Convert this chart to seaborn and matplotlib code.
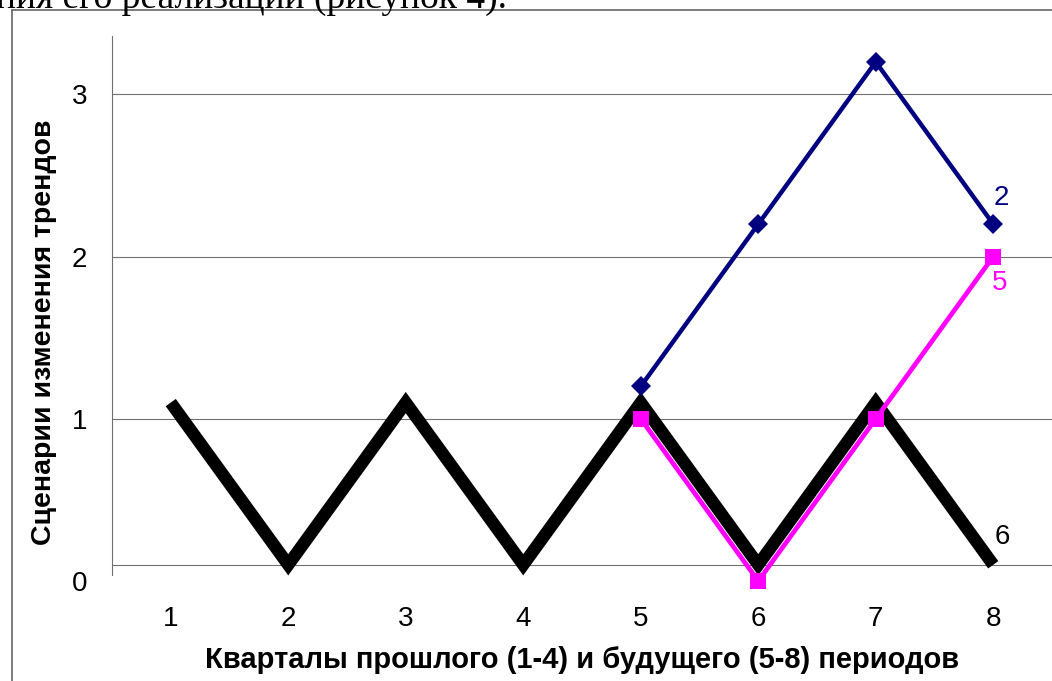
import seaborn as sns
import pandas as pd
import matplotlib.pyplot as plt
from matplotlib.lines import Line2D

quarters = [1, 2, 3, 4, 5, 6, 7, 8]
scenario6 = [1.1, 0.1, 1.1, 0.1, 1.1, 0.1, 1.1, 0.1]
future_quarters = [5, 6, 7, 8]
scenario2 = [1.2, 2.2, 3.2, 2.2]
scenario5 = [1.0, 0.0, 1.0, 2.0]
series_names = ['2', '5', '6']
y_ticks = [0, 1, 2, 3]

sns.set_style('white')
plt.rcParams['font.family'] = ['Liberation Sans', 'DejaVu Sans']
plt.rcParams['text.color'] = 'black'
plt.rcParams['axes.labelcolor'] = 'black'

df6 = pd.DataFrame({'Квартал': quarters, 'Сценарий': scenario6})
df2 = pd.DataFrame({'Квартал': future_quarters, 'Сценарий': scenario2})
df5 = pd.DataFrame({'Квартал': future_quarters, 'Сценарий': scenario5})

fig = plt.figure(figsize=(10.52, 6.81), dpi=100)
ax = fig.add_axes([112 / 1052, 100 / 681, 1 - 112 / 1052, 545 / 681])

grey = '#707070'
navy = '#000080'
pink = '#ff00ff'

sns.lineplot(x='Квартал', y='Сценарий', data=df6, color='black', linewidth=9,
             solid_capstyle='butt', solid_joinstyle='miter', ax=ax, clip_on=False, zorder=3)
sns.lineplot(x='Квартал', y='Сценарий', data=df5, color=pink, linewidth=3.4,
             marker='s', markersize=11, markeredgewidth=0, ax=ax, clip_on=False, zorder=4)
sns.lineplot(x='Квартал', y='Сценарий', data=df2, color=navy, linewidth=3.2,
             marker='D', markersize=10, markeredgewidth=0, ax=ax, clip_on=False, zorder=5)

ax.annotate(series_names[0], (future_quarters[-1], scenario2[-1]), xytext=(6, 19),
            textcoords='offset points', ha='center', va='center', fontsize=20, color=navy)
ax.annotate(series_names[1], (future_quarters[-1], scenario5[-1]), xytext=(4.5, -19),
            textcoords='offset points', ha='center', va='center', fontsize=20, color=pink)
ax.annotate(series_names[2], (quarters[-1], scenario6[-1]), xytext=(6.5, 20),
            textcoords='offset points', ha='center', va='center', fontsize=20, color='black')

ax.set_xlim(0.5, 8.5)
ax.set_ylim(0, 3.36)
ax.set_xticks(quarters)
ax.set_xticks([q + 0.5 for q in [0] + quarters], minor=True)
ax.set_yticks(y_ticks)
ax.tick_params(axis='x', which='major', length=0, pad=30, labelsize=20, labelcolor='black')
ax.tick_params(axis='x', which='minor', length=7, width=0.8, color=grey, direction='out')
ax.tick_params(axis='y', length=6, width=0.8, color=grey, direction='out', pad=12,
               labelsize=20, labelcolor='black')
ax.yaxis.get_major_ticks()[0].tick1line.set_visible(False)

for v in y_ticks[1:]:
    ax.axhline(v, color=grey, linewidth=0.8, zorder=1)

for s in ['top', 'right']:
    ax.spines[s].set_visible(False)
ax.spines['bottom'].set_position(('data', 0.1))
ax.spines['left'].set_bounds(0.04, 3.36)
for s in ['bottom', 'left']:
    ax.spines[s].set_color(grey)
    ax.spines[s].set_linewidth(0.8)

ax.set_xlabel('Кварталы прошлого (1-4) и будущего (5-8) периодов', fontsize=21,
              fontweight='bold', labelpad=10)
ax.set_ylabel('Сценарии изменения трендов', fontsize=20.5, fontweight='bold')
ax.yaxis.set_label_coords(-0.058, 0.457)

# frame of the picture in the document and the cut text above it
fig.add_artist(Line2D([12 / 1052, 12 / 1052], [0, 671 / 681], color='#666666', linewidth=1.2))
fig.add_artist(Line2D([12 / 1052, 1], [671 / 681, 671 / 681], color='#666666', linewidth=1.2))
fig.text(-0.004, 673 / 681, 'ния его реализации (рисунок 4).', family='Liberation Serif',
         fontsize=27, va='baseline', ha='left')

fig.savefig('out.png', dpi=100)
